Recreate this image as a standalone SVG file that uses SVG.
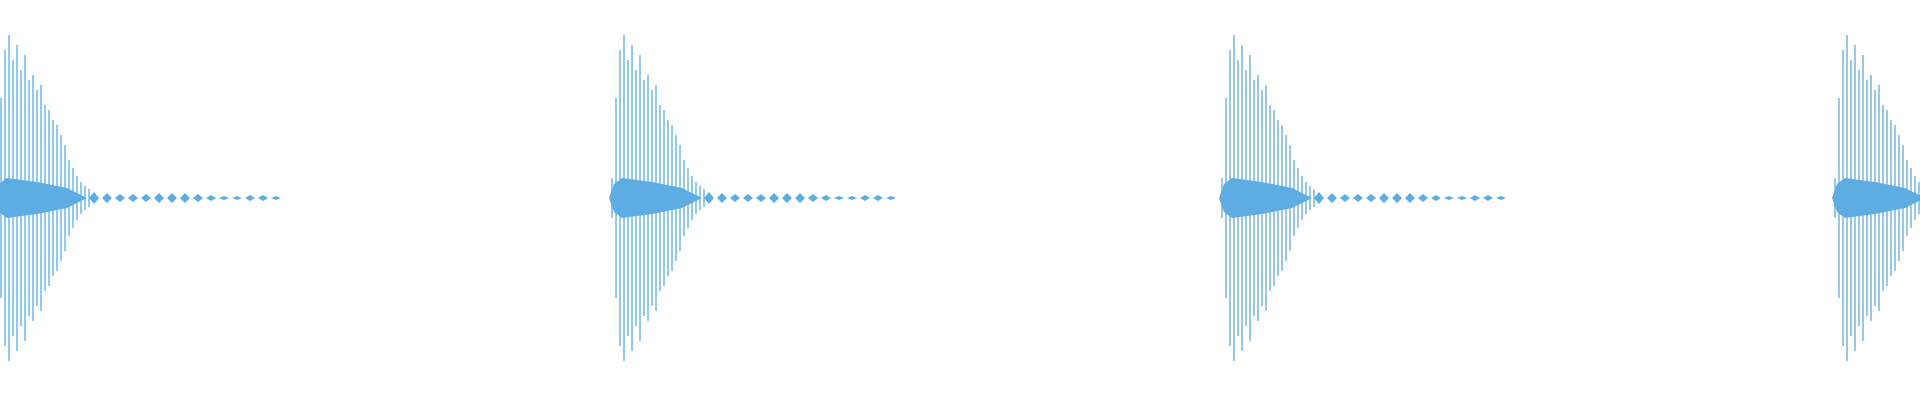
<svg xmlns="http://www.w3.org/2000/svg" width="1920" height="400" viewBox="0 0 1920 400">
<style>.w{stroke:#5DADE2;stroke-width:1.3;fill:none}.f{fill:#5DADE2;stroke:none}</style>
<defs>
<g id="burst">
<path class="w" d="M0,178V218M4,98V298M8,50V346M12,35V361M16,60V336M20,45V351M24,70V326M28,55V341M32,80V316M36,75V321M40,90V306M44,85V311M48,105V291M52,110V286M56,120V276M60,125V271M64,135V261M68,145V251M72,160V236M76,168V228M80,176V220M84,182V214M88,186V210M92,189V207"/>
<path class="f" d="M-3,198L2,184L10,178L40,182L70,188L90,198L70,208L40,214L10,218L2,212Z"/>
<path class="f" d="M92,198l5,-6l5,6l-5,6zM105,198l5,-5l5,5l-5,5zM118,198l5,-4l5,4l-5,4zM131,198l5,-4l5,4l-5,4zM144,198l5,-4l5,4l-5,4zM157,198l5,-5l5,5l-5,5zM170,198l5,-5l5,5l-5,5zM183,198l5,-5l5,5l-5,5zM196,198l5,-4l5,4l-5,4zM209,198l5,-3l5,3l-5,3zM222,198l5,-2l5,2l-5,2zM235,198l5,-2l5,2l-5,2zM248,198l5,-3l5,3l-5,3zM261,198l5,-3l5,3l-5,3zM274,198l5,-2l5,2l-5,2z"/>
</g>
</defs>
<rect width="1920" height="400" fill="#fff"/>
<use href="#burst" x="-3"/>
<use href="#burst" x="612"/>
<use href="#burst" x="1222"/>
<use href="#burst" x="1835"/>
</svg>
